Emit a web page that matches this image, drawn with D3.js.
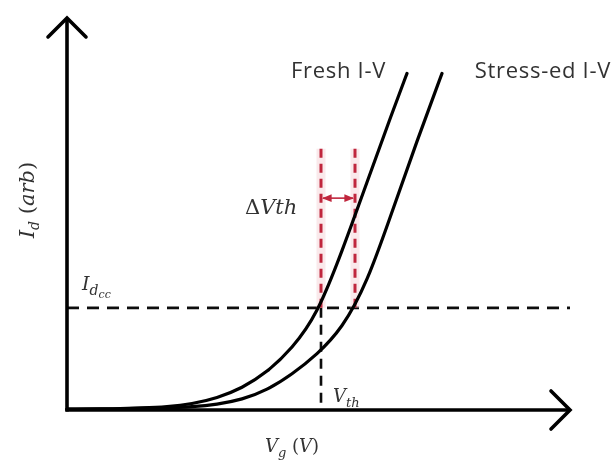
<!DOCTYPE html>
<html>
<head>
<meta charset="utf-8">
<script src="https://cdn.jsdelivr.net/npm/d3@7"></script>
<style>
  html, body { margin: 0; padding: 0; background: #fff; }
  svg { display: block; }
</style>
</head>
<body>
<svg id="chart" width="611" height="464"></svg>
<script>
// Gate voltage (arb. units) and drain current (arb. units) for the two sweeps
const freshVg    = [0, 1, 1.5, 2, 2.5, 3, 3.5, 4, 4.5, 5, 5.5, 6, 6.5, 6.8];
const freshId    = [0.2, 0.3, 0.5, 0.8, 1.5, 3, 5.5, 9.5, 15.5, 24, 40, 57.5, 75, 85];
const stressedVg = [0, 1, 2, 2.5, 3, 3.5, 4, 4.5, 5, 5.5, 6, 6.5, 7, 7.5];
const stressedId = [0.2, 0.3, 0.5, 0.8, 1.4, 2.6, 5.0, 9.0, 14, 20.5, 32, 50, 68, 85];

// Reference levels
const idcc = 25.8;          // constant-current criterion
const vthFresh = 5.08;      // threshold of fresh device
const vthStressed = 5.76;   // threshold after stress
const shiftTop = 66;        // top of the shift markers
const arrowLevel = 53.5;    // level of the ΔVth arrow

const seriesNames = ["Fresh I-V", "Stress-ed I-V"];

const svg = d3.select("#chart");
const x = d3.scaleLinear().domain([0, 10]).range([67, 567]);
const y = d3.scaleLinear().domain([0, 100]).range([410, 14]);

const defs = svg.append("defs");
defs.append("filter").attr("id", "soft")
  .append("feGaussianBlur").attr("stdDeviation", 0.45);
const red = "#c0283e";
defs.append("marker").attr("id", "redhead")
  .attr("viewBox", "0 0 10 10").attr("refX", 9).attr("refY", 5)
  .attr("markerWidth", 6).attr("markerHeight", 6).attr("orient", "auto-start-reverse")
  .append("path").attr("d", "M0,1 L10,5 L0,9 Z").attr("fill", red);

const g = svg.append("g").attr("filter", "url(#soft)");

// Constant-current level
g.append("line")
  .attr("x1", x(0)).attr("x2", x(10.06))
  .attr("y1", y(idcc)).attr("y2", y(idcc))
  .attr("stroke", "#111").attr("stroke-width", 2.6)
  .attr("stroke-dasharray", "12,8");

// Threshold drop line
g.append("line")
  .attr("x1", x(vthFresh)).attr("x2", x(vthFresh))
  .attr("y1", y(idcc)).attr("y2", y(0))
  .attr("stroke", "#111").attr("stroke-width", 2.6)
  .attr("stroke-dasharray", "10,7");

// Shift markers (halo then dashes)
[vthFresh, vthStressed].forEach(v => {
  g.append("line")
    .attr("x1", x(v)).attr("x2", x(v))
    .attr("y1", y(idcc)).attr("y2", y(shiftTop))
    .attr("stroke", "#f6d3d8").attr("stroke-width", 9).attr("opacity", 0.5);
});
[vthFresh, vthStressed].forEach(v => {
  g.append("line")
    .attr("x1", x(v)).attr("x2", x(v))
    .attr("y1", y(idcc)).attr("y2", y(shiftTop))
    .attr("stroke", red).attr("stroke-width", 3)
    .attr("stroke-dasharray", "9,6");
});
g.append("line")
  .attr("x1", x(vthFresh) + 2).attr("x2", x(vthStressed) - 2)
  .attr("y1", y(arrowLevel)).attr("y2", y(arrowLevel))
  .attr("stroke", red).attr("stroke-width", 1.6)
  .attr("marker-start", "url(#redhead)").attr("marker-end", "url(#redhead)");

// I-V curves
const line = d3.line().x(d => x(d[0])).y(d => y(d[1])).curve(d3.curveBasis);
const curves = [d3.zip(freshVg, freshId), d3.zip(stressedVg, stressedId)];
g.selectAll("path.iv").data(curves).join("path")
  .attr("class", "iv")
  .attr("d", line)
  .attr("fill", "none").attr("stroke", "#000").attr("stroke-width", 3.2)
  .attr("stroke-linecap", "round");

// Axes with open arrowheads
const axisW = 3.6;
g.append("line").attr("x1", x(0)).attr("x2", x(0))
  .attr("y1", y(0) + 1.5).attr("y2", y(99))
  .attr("stroke", "#000").attr("stroke-width", axisW);
g.append("path")
  .attr("d", `M${x(0) - 19},${y(99) + 19} L${x(0)},${y(99)} L${x(0) + 19},${y(99) + 19}`)
  .attr("fill", "none").attr("stroke", "#000").attr("stroke-width", axisW)
  .attr("stroke-linecap", "round").attr("stroke-linejoin", "miter");
g.append("line").attr("x1", x(0) - 1.5).attr("x2", x(10.06))
  .attr("y1", y(0)).attr("y2", y(0))
  .attr("stroke", "#000").attr("stroke-width", axisW);
g.append("path")
  .attr("d", `M${x(10.06) - 19},${y(0) - 19} L${x(10.06)},${y(0)} L${x(10.06) - 19},${y(0) + 19}`)
  .attr("fill", "none").attr("stroke", "#000").attr("stroke-width", axisW)
  .attr("stroke-linecap", "round").attr("stroke-linejoin", "miter");

// Series labels
const sans = "'Open Sans', 'Liberation Sans', sans-serif";
const labelRight = [386, 611];
g.selectAll("text.series").data(seriesNames).join("text")
  .attr("class", "series")
  .attr("x", (d, i) => labelRight[i]).attr("y", 78)
  .attr("text-anchor", "end")
  .attr("font-family", sans).attr("font-size", 22)
  .attr("letter-spacing", 0.7)
  .attr("fill", "#333")
  .text(d => d);

// Math-style labels
const serif = "'DejaVu Serif', 'Liberation Serif', serif";
function mathText(px, py, size, parts, rotate) {
  const t = g.append("text")
    .attr("font-family", serif).attr("font-size", size)
    .attr("fill", "#333").attr("font-style", "italic");
  if (rotate) t.attr("transform", `translate(${px},${py}) rotate(-90)`).attr("text-anchor", "middle");
  else t.attr("x", px).attr("y", py);
  parts.forEach(p => {
    const s = t.append("tspan").text(p.t);
    if (p.sz) s.attr("font-size", p.sz);
    if (p.dy) s.attr("dy", p.dy);
    if (p.up) s.attr("font-style", "normal");
  });
  return t;
}

mathText(34, 200, 21, [
  { t: "I" }, { t: "d", sz: 14, dy: 5 }, { t: " (", dy: -5, up: true }, { t: "arb" }, { t: ")", up: true }
], true);

mathText(82, 290, 19, [
  { t: "I" }, { t: "d", sz: 14, dy: 5 }, { t: "cc", sz: 11, dy: 3 }
]);

mathText(245, 214, 21, [
  { t: "Δ", up: true }, { t: "Vth" }
]);

mathText(333, 402, 18, [
  { t: "V" }, { t: "th", sz: 13, dy: 5 }
]);

mathText(265, 452, 18, [
  { t: "V" }, { t: "g", sz: 13, dy: 5 }, { t: " (", dy: -5, up: true }, { t: "V" }, { t: ")", up: true }
]);
</script>
</body>
</html>
